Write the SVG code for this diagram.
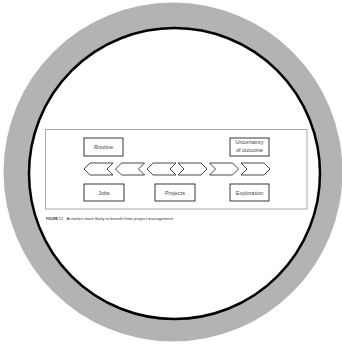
<svg xmlns="http://www.w3.org/2000/svg" width="342" height="345" viewBox="0 0 342 345">
<style>
.box{fill:#fff;stroke:#222;stroke-width:0.9}
.chev{fill:#fff;stroke:#333;stroke-width:0.9;stroke-linejoin:miter}
.lbl{font-family:"Liberation Sans",Arial,sans-serif;font-size:5.5px;fill:#444;text-anchor:middle}
.cap{font-family:"Liberation Sans",Arial,sans-serif;font-size:4px;fill:#333}
</style>
<rect width="342" height="345" fill="#fff"/>
<circle cx="173" cy="172" r="169.5" fill="#b3b3b3"/>
<circle cx="174.5" cy="173.5" r="145.5" fill="#fff" stroke="#000" stroke-width="2.5"/>
<rect x="45.5" y="129.5" width="261.5" height="79.5" fill="#fff" stroke="#aaa" stroke-width="1"/>
<g id="connectors">
<polygon class="chev" points="84,169 90,163 113,163 107,169 113,175 90,175"/>
<polygon class="chev" points="115.5,169 121.5,163 144.5,163 138.5,169 144.5,175 121.5,175"/>
<polygon class="chev" points="147,169 153,163 176,163 170,169 176,175 153,175"/>
<polygon class="chev" points="178,163 201,163 207,169 201,175 178,175 184,169"/>
<polygon class="chev" points="209.5,163 232.5,163 238.5,169 232.5,175 209.5,175 215.5,169"/>
<polygon class="chev" points="241,163 264,163 270,169 264,175 241,175 247,169"/>
</g>
<g id="routine"><rect class="box" x="84" y="138" width="39" height="18"/><text class="lbl" x="103.5" y="149">Routine</text></g>
<g id="uncertainty"><rect class="box" x="230" y="138" width="39" height="18"/><text class="lbl" x="249.5" y="143.5">Uncertainty</text><text class="lbl" x="249.5" y="151.5">of outcome</text></g>
<g id="jobs"><rect class="box" x="84" y="184" width="40" height="17"/><text class="lbl" x="104" y="194.5">Jobs</text></g>
<g id="projects"><rect class="box" x="155" y="184" width="40" height="17"/><text class="lbl" x="175" y="194.5">Projects</text></g>
<g id="exploration"><rect class="box" x="230" y="184" width="39" height="17"/><text class="lbl" x="249.5" y="194.5">Exploration</text></g>
<text class="cap" x="46" y="219.5" font-weight="bold" font-size="3.3" textLength="17" lengthAdjust="spacingAndGlyphs">FIGURE 1.1</text>
<text class="cap" x="66.5" y="219.5" textLength="106.5" lengthAdjust="spacingAndGlyphs">Activities most likely to benefit from project management</text>
</svg>
